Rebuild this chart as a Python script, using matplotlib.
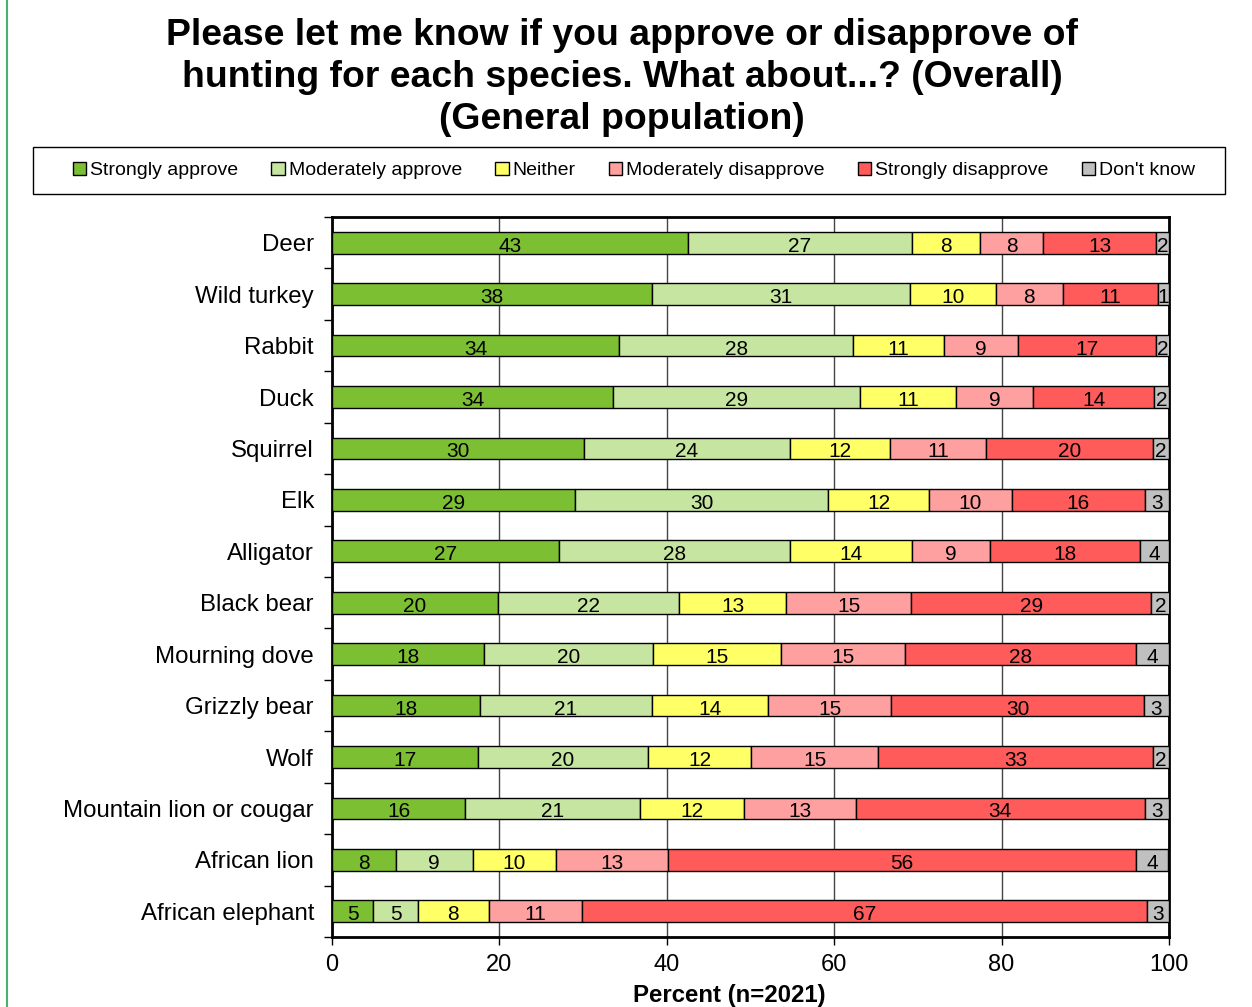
import matplotlib.pyplot as plt
import matplotlib.lines as mlines
import numpy as np

plt.rcParams['font.family'] = ['Liberation Sans', 'DejaVu Sans']

# Categories (top to bottom)
species = ['Deer', 'Wild turkey', 'Rabbit', 'Duck', 'Squirrel', 'Elk', 'Alligator',
           'Black bear', 'Mourning dove', 'Grizzly bear', 'Wolf',
           'Mountain lion or cougar', 'African lion', 'African elephant']

# Values (percent)
strongly_approve = [42.5, 38.2, 34.3, 33.6, 30.1, 29.0, 27.1, 19.8, 18.2, 17.7, 17.4, 15.9, 7.6, 4.9]
moderately_approve = [26.8, 30.8, 28.0, 29.5, 24.6, 30.3, 27.6, 21.7, 20.2, 20.5, 20.3, 20.9, 9.2, 5.4]
neither = [8.1, 10.3, 10.8, 11.5, 12.0, 12.0, 14.6, 12.8, 15.3, 13.9, 12.4, 12.4, 10.0, 8.4]
moderately_disapprove = [7.6, 8.0, 8.8, 9.2, 11.4, 9.9, 9.3, 14.9, 14.7, 14.7, 15.1, 13.4, 13.3, 11.2]
strongly_disapprove = [13.4, 11.4, 16.6, 14.4, 20.0, 15.9, 17.9, 28.7, 27.7, 30.2, 32.9, 34.5, 56.0, 67.5]
dont_know = [1.6, 1.3, 1.6, 1.8, 1.9, 2.9, 3.5, 2.3, 3.9, 3.0, 1.9, 2.9, 3.8, 2.6]

# Printed labels
lab_sa = [43, 38, 34, 34, 30, 29, 27, 20, 18, 18, 17, 16, 8, 5]
lab_ma = [27, 31, 28, 29, 24, 30, 28, 22, 20, 21, 20, 21, 9, 5]
lab_ne = [8, 10, 11, 11, 12, 12, 14, 13, 15, 14, 12, 12, 10, 8]
lab_md = [8, 8, 9, 9, 11, 10, 9, 15, 15, 15, 15, 13, 13, 11]
lab_sd = [13, 11, 17, 14, 20, 16, 18, 29, 28, 30, 33, 34, 56, 67]
lab_dk = [2, 1, 2, 2, 2, 3, 4, 2, 4, 3, 2, 3, 4, 3]

series_names = ['Strongly approve', 'Moderately approve', 'Neither',
                'Moderately disapprove', 'Strongly disapprove', "Don't know"]
colors = ['#7cbf33', '#c5e5a0', '#ffff66', '#ffa0a0', '#ff5b5b', '#c0c0c0']

series = [strongly_approve, moderately_approve, neither,
          moderately_disapprove, strongly_disapprove, dont_know]
labels = [lab_sa, lab_ma, lab_ne, lab_md, lab_sd, lab_dk]

fig = plt.figure(figsize=(12.52, 10.07), dpi=100)
ax = fig.add_axes([332 / 1252, 1 - 937 / 1007, (1169 - 332) / 1252, (937 - 217) / 1007])

y = np.arange(len(species))
left = np.zeros(len(species))
for vals, labs, name, col in zip(series, labels, series_names, colors):
    vals = np.array(vals)
    ax.barh(y, vals, left=left, height=0.42, color=col, edgecolor='black',
            linewidth=1, label=name, zorder=3)
    for yi, l, v, lab in zip(y, left, vals, labs):
        ax.text(l + v / 2, yi + 0.03, str(lab), ha='center', va='center_baseline',
                fontsize=15, zorder=4)
    left += vals

ax.set_xlim(0, 100)
ax.set_ylim(len(species) - 0.5, -0.5)
ax.set_xticks([0, 20, 40, 60, 80, 100])
ax.tick_params(axis='x', labelsize=17, length=6, width=1, direction='out', pad=6)
ax.set_yticks(y)
ax.set_yticklabels(species, fontsize=17.3)
ax.tick_params(axis='y', which='major', length=0, pad=13)
ax.set_yticks(np.arange(-0.5, len(species)), minor=True)
ax.tick_params(axis='y', which='minor', length=6, width=1, direction='out')
ax.grid(axis='x', color='#444444', linewidth=1, zorder=0)
for s in ax.spines.values():
    s.set_linewidth(2)

ax.set_xlabel('Percent (n=2021)', fontsize=17.3, fontweight='bold')
ax.xaxis.set_label_coords(0.475, -0.065)

fig.text(0.497, 0.982, 'Please let me know if you approve or disapprove of\n'
         'hunting for each species. What about...? (Overall)\n(General population)',
         ha='center', va='top', fontsize=26.9, fontweight='bold', linespacing=1.25)

handles, names = ax.get_legend_handles_labels()
leg = fig.legend(handles, names, loc='center', ncol=6,
                 bbox_to_anchor=(634 / 1252, 1 - 170.5 / 1007),
                 fontsize=14, frameon=False,
                 handlelength=0.7, handleheight=0.7,
                 handletextpad=0.2, columnspacing=1.7)
fig.add_artist(plt.Rectangle((33 / 1252, 1 - 194 / 1007), (1225 - 33) / 1252, 47 / 1007,
                             transform=fig.transFigure, fill=False, edgecolor='black',
                             linewidth=1))

fig.add_artist(mlines.Line2D([7 / 1252, 7 / 1252], [0, 1], color='#4caf6e', linewidth=1.5))

plt.savefig('out.png', dpi=100)
